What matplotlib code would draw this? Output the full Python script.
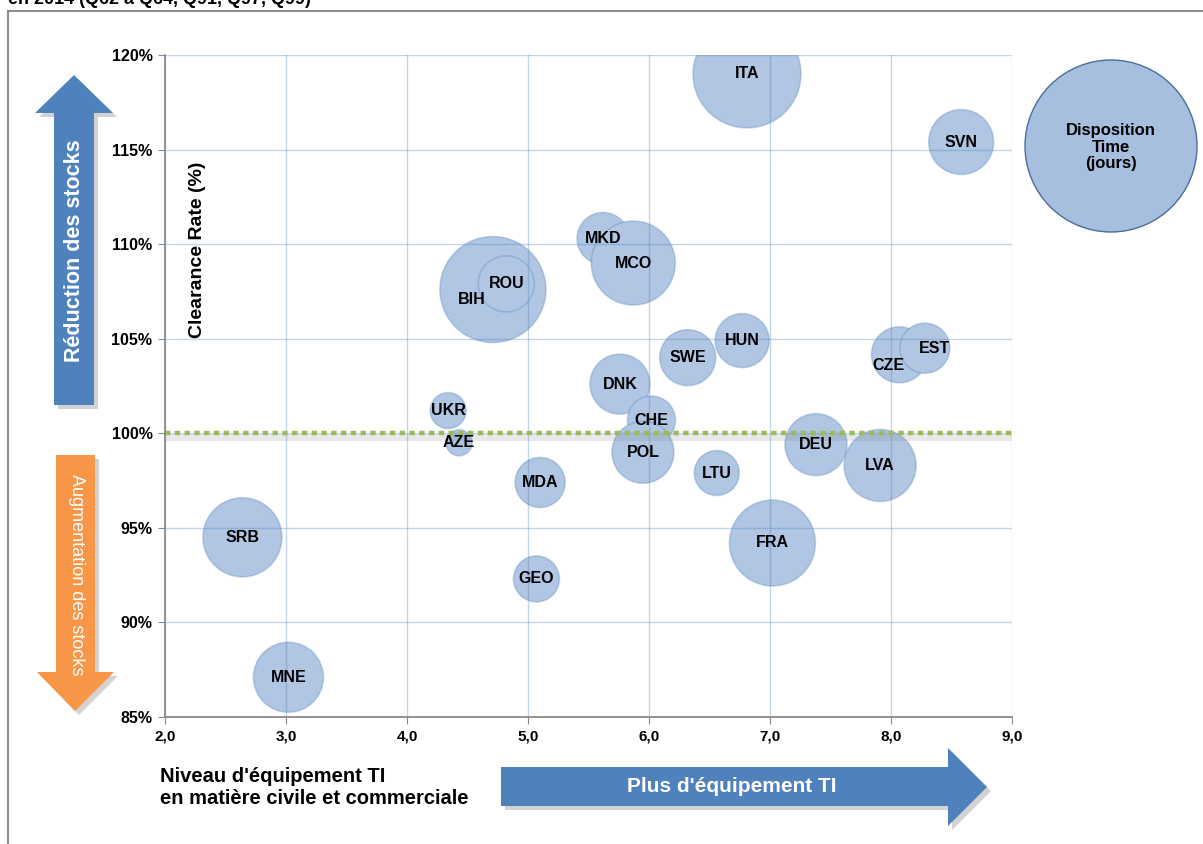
import matplotlib
matplotlib.use("Agg")
import matplotlib.pyplot as plt
import matplotlib.transforms as mtransforms
from matplotlib.patches import Polygon, Circle

plt.rcParams['font.family'] = ['Liberation Sans', 'DejaVu Sans']

# pays, niveau d'équipement TI, clearance rate (%), disposition time (jours)
pays = ['ITA', 'SVN', 'MKD', 'MCO', 'BIH', 'ROU', 'DNK', 'UKR', 'AZE', 'CHE',
        'POL', 'SWE', 'HUN', 'CZE', 'EST', 'DEU', 'LVA', 'LTU', 'MDA', 'FRA',
        'GEO', 'SRB', 'MNE']
equipement = [6.81, 8.58, 5.62, 5.87, 4.71, 4.82, 5.76, 4.34, 4.43, 6.02,
              5.95, 6.32, 6.77, 8.07, 8.28, 7.38, 7.91, 6.56, 5.10, 7.02,
              5.07, 2.64, 3.02]
clearance = [119.0, 115.4, 110.3, 109.0, 107.6, 107.9, 102.6, 101.2, 99.5, 100.7,
             99.0, 104.0, 104.9, 104.15, 104.5, 99.4, 98.3, 97.9, 97.4, 94.2,
             92.3, 94.5, 87.1]
disposition = [530, 192, 123, 321, 511, 143, 164, 59, 31, 105,
               175, 143, 133, 143, 114, 175, 236, 92, 114, 336,
               96, 284, 223]

x_ticks = [2, 3, 4, 5, 6, 7, 8, 9]
x_labels = ['2,0', '3,0', '4,0', '5,0', '6,0', '7,0', '8,0', '9,0']
y_ticks = [85, 90, 95, 100, 105, 110, 115, 120]
y_labels = ['85%', '90%', '95%', '100%', '105%', '110%', '115%', '120%']

# décalage de quelques étiquettes (points)
label_offsets = {'BIH': (-15, -7), 'CZE': (-8, -8), 'EST': (7, 0)}

W, H = 1203, 844
fig = plt.figure(figsize=(W / 100, H / 100), dpi=100)
ax = fig.add_axes([165 / W, 1 - 717 / H, (1012 - 165) / W, (717 - 55) / H])
ax.set_facecolor('none')

# taille des bulles proportionnelle à la surface
size_scale = (2 * 54 * 0.72) ** 2 / 530
sizes = [d * size_scale for d in disposition]
ax.scatter(equipement, clearance, s=sizes, facecolor='#B0C6E2',
           edgecolor=(79/255, 129/255, 189/255, 0.3), linewidth=1.2, zorder=2)

for p, xv, yv in zip(pays, equipement, clearance):
    dx, dy = label_offsets.get(p, (0, 0))
    ax.annotate(p, (xv, yv), xytext=(dx, dy), textcoords='offset points',
                ha='center', va='center', fontsize=11.5, fontweight='bold', zorder=5)

# ligne 100 % avec ombre
shadow = mtransforms.offset_copy(ax.transData, fig=fig, x=1, y=-3, units='points')
ax.plot([2, 9], [100, 100], color='gray', alpha=0.18, lw=5, transform=shadow, zorder=3)
ax.axhline(100, color='#9BBB59', lw=3.2, linestyle=(0, (1.2, 1.0)), zorder=4)

ax.set_xlim(2, 9)
ax.set_ylim(85, 120)
ax.set_xticks(x_ticks)
ax.set_xticklabels(x_labels, fontweight='bold', fontsize=11)
ax.set_yticks(y_ticks)
ax.set_yticklabels(y_labels, fontweight='bold', fontsize=11.5)
ax.set_axisbelow(False)
ax.grid(True, color='#4F81BD', alpha=0.33, lw=1)
for s in ['top', 'right']:
    ax.spines[s].set_visible(False)
for s in ['left', 'bottom']:
    ax.spines[s].set_color('#8A8A8A')
    ax.spines[s].set_linewidth(1.3)
    ax.spines[s].set_zorder(6)
ax.tick_params(direction='out', length=5, color='#8A8A8A', pad=4)

# calque de décor en pixels
ov = fig.add_axes([0, 0, 1, 1], zorder=10)
ov.set_xlim(0, W)
ov.set_ylim(H, 0)
ov.axis('off')
ov.set_facecolor('none')

ov.plot([8, 8], [11, H], color='#8C8C8C', lw=1.5)
ov.plot([8, W], [11, 11], color='#8C8C8C', lw=1.5)
ov.text(8, 4, 'en 2014 (Q62 à Q64, Q91, Q97, Q99)', fontsize=13, fontweight='bold',
        ha='left', va='baseline')


def arrow(pts, color):
    sh = [(px + 4, py + 4) for px, py in pts]
    ov.add_patch(Polygon(sh, closed=True, facecolor='#7F7F7F', alpha=0.35, edgecolor='none'))
    ov.add_patch(Polygon(pts, closed=True, facecolor=color, edgecolor='none'))


arrow([(54, 405), (94, 405), (94, 113), (113, 113), (74, 75), (35, 113), (54, 113)], '#4F81BD')
arrow([(56, 455), (95, 455), (95, 672), (114, 672), (75, 711), (37, 672), (56, 672)], '#F79646')
arrow([(501, 767), (948, 767), (948, 748), (987, 787), (948, 826), (948, 806), (501, 806)], '#4F81BD')

ov.text(74, 251, 'Réduction des stocks', rotation=90, color='white', fontsize=15.5,
        fontweight='bold', ha='center', va='center')
ov.text(76, 575, 'Augmentation des stocks', rotation=-90, color='white', fontsize=13,
        ha='center', va='center')
ov.text(732, 787, "Plus d'équipement TI", color='white', fontsize=15,
        fontweight='bold', ha='center', va='center')

ov.text(197, 250, 'Clearance Rate (%)', rotation=90, fontsize=14, fontweight='bold',
        ha='center', va='center')
ov.text(160, 787, "Niveau d'équipement TI\nen matière civile et commerciale", fontsize=14.5,
        fontweight='bold', ha='left', va='center', linespacing=1.2)

ov.add_patch(Circle((1111, 146), 86, facecolor='#A7BFDE', edgecolor='#4A6D9A', lw=1))
ov.text(1111, 147, 'Disposition\nTime\n(jours)', fontsize=12, fontweight='bold',
        ha='center', va='center', linespacing=1.15)

fig.savefig('out.png', dpi=100)
